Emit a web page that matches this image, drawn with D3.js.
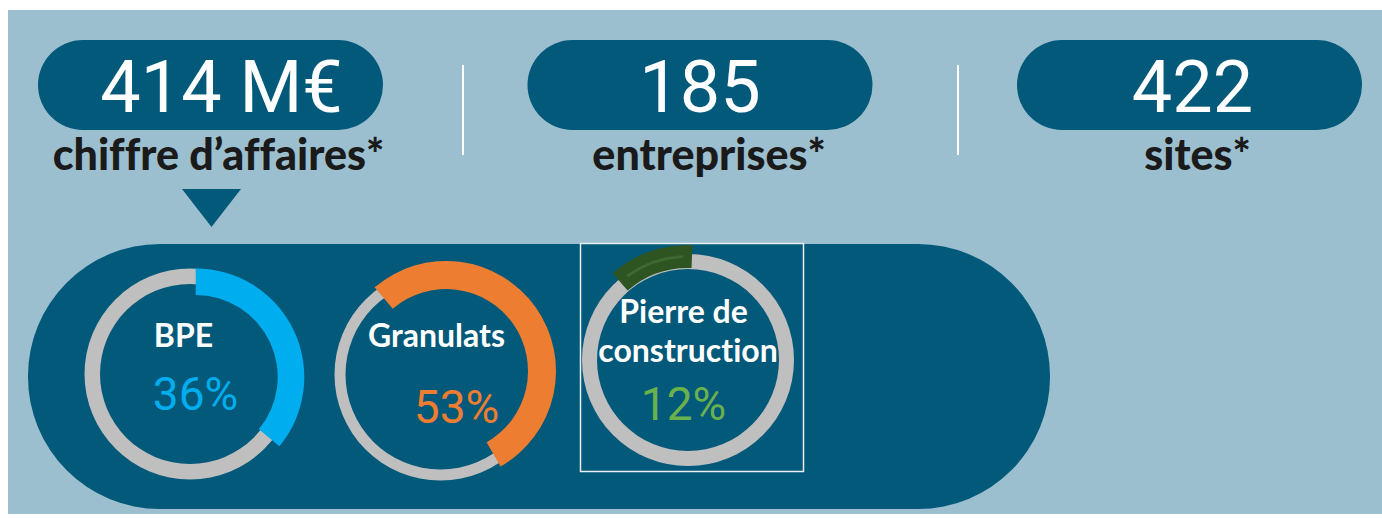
<!DOCTYPE html>
<html>
<head>
<meta charset="utf-8">
<script src="https://cdn.jsdelivr.net/npm/d3@7"></script>
<style>
  body { margin: 0; background: #fff; }
  svg { display: block; }
  text { font-variant-ligatures: none; font-feature-settings: "liga" 0, "dlig" 0, "clig" 0; }
</style>
</head>
<body>
<svg id="chart" width="1382" height="518"></svg>
<script>
// key figures
const kpiValues = ["414 M€", "185", "422"];
const kpiLabels = ["chiffre d’affaires*", "entreprises*", "sites*"];

// share of turnover by activity
const segments = [["BPE"], ["Granulats"], ["Pierre de", "construction"]];
const shares = [36, 53, 12];

const teal = "#03597a";
const lightBg = "#9bbfcf";
const ringColors = ["#00aeef", "#ed7d31", "#2e5422"];
const pctColors = ["#00aeef", "#ed7d31", "#6ab04c"];

const svg = d3.select("#chart");

svg.append("rect")
  .attr("x", 8).attr("y", 10)
  .attr("width", 1374).attr("height", 504)
  .attr("fill", lightBg);

// ---- top pills
const pillX = d3.scalePoint().domain(d3.range(kpiValues.length)).range([210.5, 1189.5]);
const pillW = 345, pillH = 90;

const pills = svg.selectAll("g.kpi").data(kpiValues).enter()
  .append("g").attr("class", "kpi")
  .attr("transform", (d, i) => `translate(${pillX(i)},0)`);

pills.append("rect")
  .attr("x", -pillW / 2).attr("y", 40)
  .attr("width", pillW).attr("height", pillH)
  .attr("rx", 45).attr("ry", 45)
  .attr("fill", teal);

pills.append("text")
  .attr("x", (d, i) => i === 0 ? 11 : (i === 2 ? 3 : 0))
  .attr("y", 112)
  .attr("text-anchor", "middle")
  .attr("font-family", "Roboto")
  .attr("font-size", 72)
  .attr("fill", "#fff")
  .text(d => d);

pills.append("text")
  .attr("x", (d, i) => [8, 9, 8][i])
  .attr("y", 170)
  .attr("text-anchor", "middle")
  .attr("font-family", "Lato")
  .attr("font-weight", 900)
  .attr("font-size", 43)
  .attr("fill", "#1a1a1a")
  .text((d, i) => kpiLabels[i]);

// separators
[463, 958].forEach(x => {
  svg.append("line")
    .attr("x1", x).attr("x2", x).attr("y1", 65).attr("y2", 155)
    .attr("stroke", "#fff").attr("stroke-width", 2);
});

// pointer triangle
svg.append("path")
  .attr("d", d3.line()([[182, 189], [241, 189], [211.5, 227]]) + "Z")
  .attr("fill", teal);

// ---- bottom band
svg.append("rect")
  .attr("x", 28).attr("y", 244)
  .attr("width", 1022).attr("height", 265)
  .attr("rx", 132).attr("ry", 132)
  .attr("fill", teal);

const angle = d3.scaleLinear().domain([0, 100]).range([0, 2 * Math.PI]);
const deg = Math.PI / 180;

const centers = [[190, 374], [440.5, 374.5], [688, 360]];
const ringR = [[90, 105.5], [95, 106], [91, 106]];
// coloured arcs sit slightly off the grey ring's centre
const arcOffset = [[5.7, 3], [5.5, -3.5], [0, 0]];
const arcR = [[82, 108.6], [82, 110], [92, 115]];
const startAngles = [0, -40.5 * deg, -41 * deg];

// frame around third donut
svg.append("rect")
  .attr("x", 580.5).attr("y", 243.5)
  .attr("width", 223).attr("height", 228)
  .attr("fill", "none")
  .attr("stroke", "#e8eef2").attr("stroke-width", 1.5);

const donuts = svg.selectAll("g.donut").data(shares).enter()
  .append("g").attr("class", "donut")
  .attr("transform", (d, i) => `translate(${centers[i][0]},${centers[i][1]})`);

donuts.append("path")
  .attr("d", (d, i) => d3.arc()({
    innerRadius: ringR[i][0], outerRadius: ringR[i][1],
    startAngle: 0, endAngle: 2 * Math.PI
  }))
  .attr("fill", "#bfbfbf");

donuts.append("path")
  .attr("transform", (d, i) => `translate(${arcOffset[i][0]},${arcOffset[i][1]})`)
  .attr("d", (d, i) => d3.arc()({
    innerRadius: arcR[i][0], outerRadius: arcR[i][1],
    startAngle: startAngles[i], endAngle: startAngles[i] + angle(d)
  }))
  .attr("fill", (d, i) => ringColors[i]);

// faint highlight on the green arc
donuts.filter((d, i) => i === 2).append("path")
  .attr("d", d => d3.arc()({
    innerRadius: 102, outerRadius: 105,
    startAngle: startAngles[2] + 5 * deg, endAngle: startAngles[2] + angle(d) - 5 * deg
  }))
  .attr("fill", "#3d6a2f");

const labelPos = [[[-6.5, -27]], [[-4, -27.5]], [[-4.5, -37], [0, 2]]];
const pctPos = [[5.5, 36], [16, 48.5], [-4.5, 60]];

donuts.each(function(d, i) {
  const g = d3.select(this);
  segments[i].forEach((line, j) => {
    g.append("text")
      .attr("x", labelPos[i][j][0]).attr("y", labelPos[i][j][1])
      .attr("text-anchor", "middle")
      .attr("font-family", "Lato")
      .attr("font-weight", 700)
      .attr("font-size", 32)
      .attr("fill", "#fff")
      .text(line);
  });
  g.append("text")
    .attr("x", pctPos[i][0]).attr("y", pctPos[i][1])
    .attr("text-anchor", "middle")
    .attr("font-family", "Roboto")
    .attr("font-size", 46)
    .attr("fill", pctColors[i])
    .text(d + "%");
});
</script>
</body>
</html>
